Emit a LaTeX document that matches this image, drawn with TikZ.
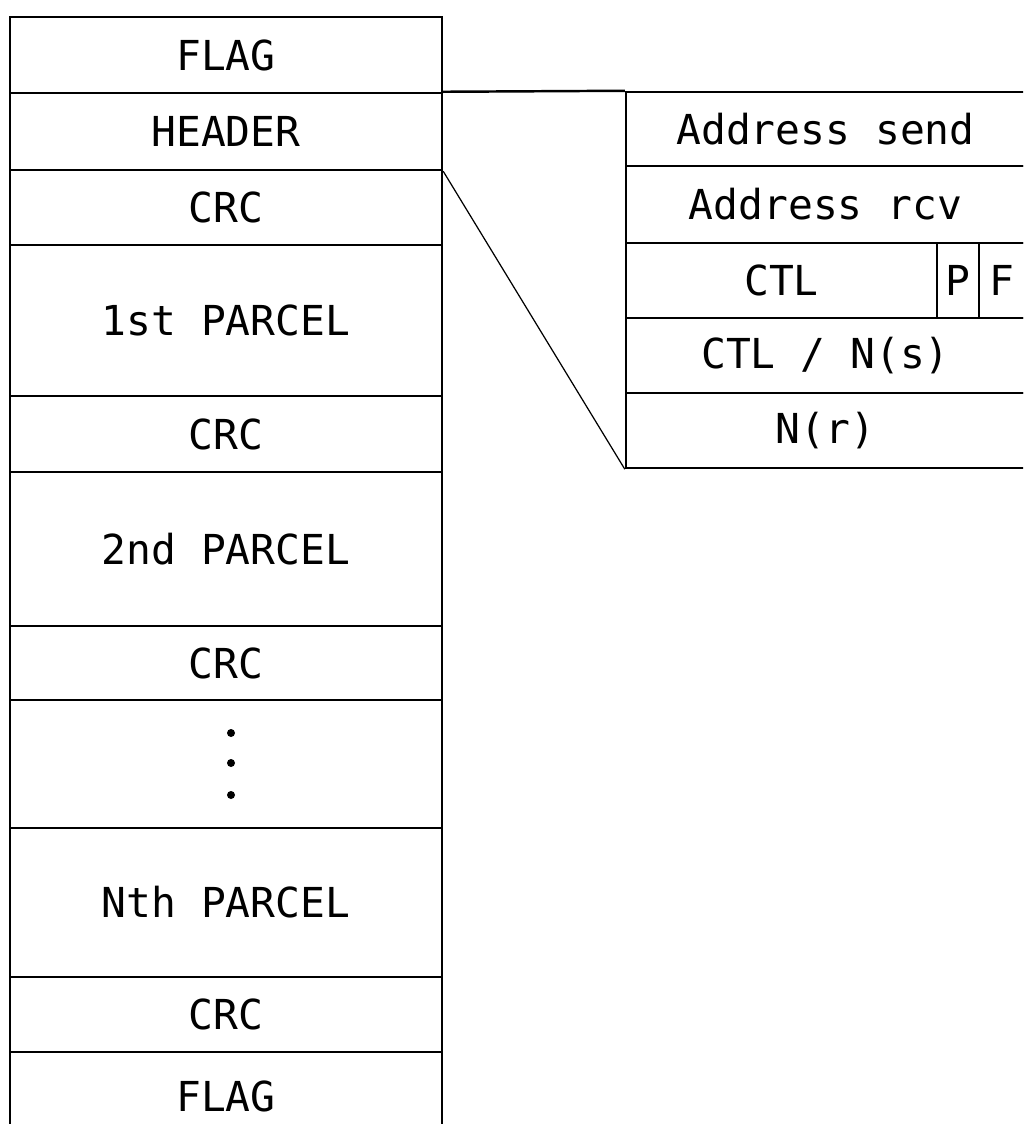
\documentclass[tikz,border=0pt]{standalone}
\usepackage{fontspec}
\newfontfamily\plotfont{DejaVu Sans Mono}
\tikzset{
  cell/.style={draw, line width=1.4pt, inner sep=0pt, font=\plotfont\fontsize{23.5}{28}\selectfont},
  lcell/.style={cell, minimum width=8.64cm},
  rcell/.style={cell, minimum width=7.98cm},
  zoomline/.style={line width=0.7pt}
}
\begin{document}
\begin{tikzpicture}[x=0.02cm,y=-0.02cm]
  \clip (0,0) rectangle (1023,1124);
  \fill[white] (0,0) rectangle (1023,1124);
  % frame layout
  \foreach \n/\c/\h/\lab in {flagA/55/1.52/FLAG, hdr/131.5/1.54/HEADER,
    crcA/207.5/1.5/CRC, parA/320.5/3.02/1st PARCEL, crcB/434/1.52/CRC,
    parB/549/3.08/2nd PARCEL, crcC/663/1.48/CRC, dots/764/2.56/{},
    parN/902.5/2.98/Nth PARCEL, crcN/1014.5/1.5/CRC, flagB/1096/1.76/FLAG}{
    \node[lcell, minimum height=\h cm] (\n) at (226,\c) {\lab};
  }
  \foreach \d in {-31,-1,31}{
    \fill (dots.center) ++(5,\d) circle[radius=0.08cm];
  }
  % header fields
  \node[rcell, minimum height=1.48cm] (asend) at (825.5,129) {Address send};
  \node[rcell, minimum height=1.54cm] (arcv) at (825.5,204.5) {Address rcv};
  \node[cell, minimum width=6.22cm, minimum height=1.5cm] (ctl) at (781.5,280.5) {CTL};
  \node[cell, minimum width=0.84cm, minimum height=1.5cm] (pbit) at (958,280.5) {P};
  \node[cell, minimum width=0.92cm, minimum height=1.5cm] (fbit) at (1002,280.5) {F};
  \node[rcell, minimum height=1.5cm] (ns) at (825.5,355.5) {CTL / N(s)};
  \node[rcell, minimum height=1.5cm] (nr) at (825.5,430.5) {N(r)};
  % zoom lines
  \draw[line width=1.4pt] (hdr.north east) -- (asend.north west);
  \draw[zoomline] (hdr.south east) -- (nr.south west);
\end{tikzpicture}
\end{document}
